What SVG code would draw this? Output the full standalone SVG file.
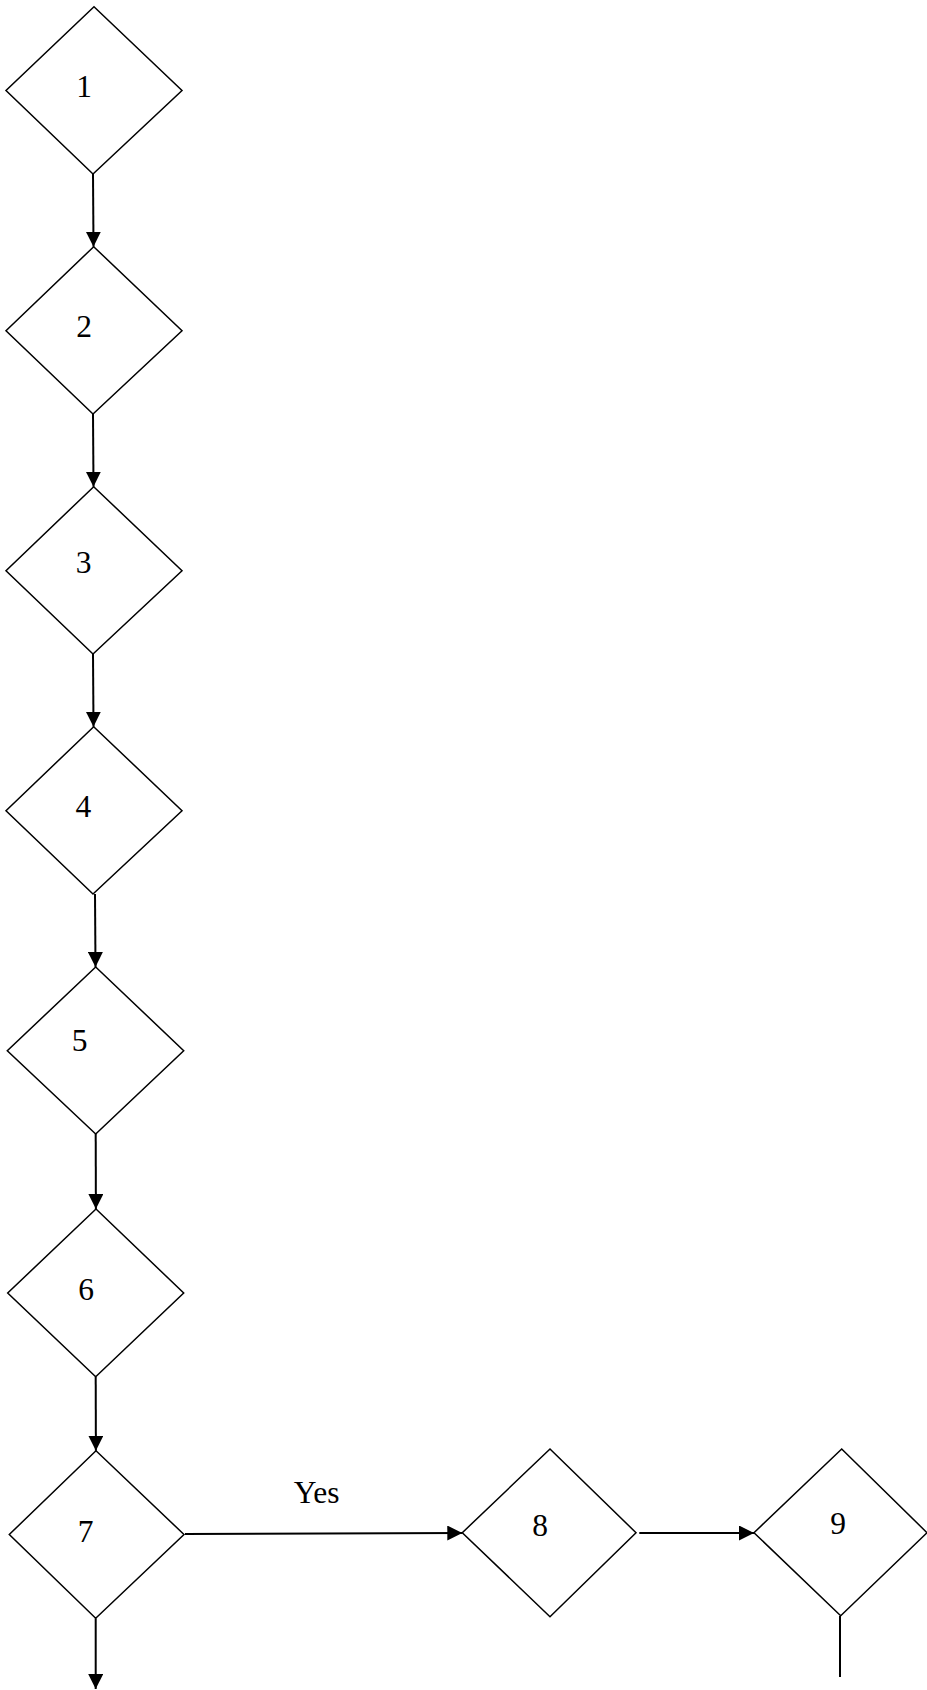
<svg xmlns="http://www.w3.org/2000/svg" width="927" height="1690" viewBox="0 0 927 1690">
<style>
.node{fill:#fff;stroke:#000;stroke-width:1.5}
.lbl{font-family:"Liberation Serif","Times New Roman",serif;font-size:31.5px;fill:#000;text-anchor:middle}
.edge{stroke:#000;stroke-width:2;fill:none}
</style>
<defs>
<marker id="arr" markerUnits="userSpaceOnUse" markerWidth="16" markerHeight="15" refX="15" refY="7.5" orient="auto">
<path d="M0,0 L15,7.5 L0,15 z" fill="#000"/>
</marker>
</defs>
<rect width="927" height="1690" fill="#fff"/>
<g id="n1"><polygon class="node" points="94,6.7 182,90.5 93,174 6,90.5"/><text class="lbl" x="84" y="97">1</text></g>
<g id="n2"><polygon class="node" points="93.7,246.7 182,330.7 93,414 6,330.7"/><text class="lbl" x="84" y="337">2</text></g>
<g id="n3"><polygon class="node" points="93.7,486.7 182,570.7 93,654 6,570.7"/><text class="lbl" x="83.7" y="573">3</text></g>
<g id="n4"><polygon class="node" points="93.7,726.7 182,810.7 93,894 6,810.7"/><text class="lbl" x="83.3" y="817">4</text></g>
<g id="n5"><polygon class="node" points="95.7,967 183.7,1050.7 95.7,1134 7.3,1050.7"/><text class="lbl" x="79.5" y="1050.7">5</text></g>
<g id="n6"><polygon class="node" points="96,1209 183.7,1293 95.7,1376.7 7.7,1293"/><text class="lbl" x="86" y="1300">6</text></g>
<g id="n7"><polygon class="node" points="96,1450.7 184,1534.5 95.7,1618.3 9.3,1534.5"/><text class="lbl" x="85.5" y="1541.5">7</text></g>
<g id="n8"><polygon class="node" points="550,1449 636,1532.7 550,1616.7 462.3,1532.7"/><text class="lbl" x="540" y="1536">8</text></g>
<g id="n9"><polygon class="node" points="841.7,1449 927,1532.7 840.7,1615.7 754,1532.7"/><text class="lbl" x="838" y="1534">9</text></g>
<g id="edges">
<line class="edge" x1="93" y1="174" x2="93.5" y2="246.7" marker-end="url(#arr)"/>
<line class="edge" x1="93" y1="414" x2="93.5" y2="486.7" marker-end="url(#arr)"/>
<line class="edge" x1="93" y1="654" x2="93.5" y2="726.7" marker-end="url(#arr)"/>
<line class="edge" x1="95" y1="894" x2="95.5" y2="967" marker-end="url(#arr)"/>
<line class="edge" x1="95.7" y1="1134" x2="95.9" y2="1209" marker-end="url(#arr)"/>
<line class="edge" x1="95.7" y1="1376.7" x2="95.9" y2="1450.7" marker-end="url(#arr)"/>
<line class="edge" x1="95.7" y1="1618.3" x2="95.7" y2="1689" marker-end="url(#arr)"/>
<line class="edge" x1="185" y1="1534" x2="462.3" y2="1533" marker-end="url(#arr)"/>
<line class="edge" x1="639.3" y1="1533" x2="754" y2="1533" marker-end="url(#arr)"/>
<line class="edge" x1="840" y1="1616" x2="840" y2="1677"/>
<text class="lbl" x="316.7" y="1502.7">Yes</text>
</g>
</svg>
